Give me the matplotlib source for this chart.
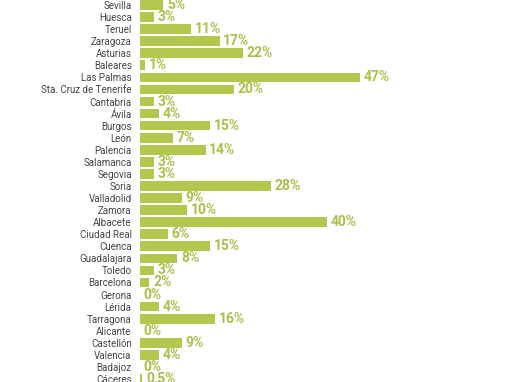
import matplotlib
matplotlib.use("Agg")
import matplotlib.pyplot as plt

provincias = ["Sevilla", "Huesca", "Teruel", "Zaragoza", "Asturias", "Baleares",
              "Las Palmas", "Sta. Cruz de Tenerife", "Cantabria", "Ávila", "Burgos",
              "León", "Palencia", "Salamanca", "Segovia", "Soria", "Valladolid",
              "Zamora", "Albacete", "Ciudad Real", "Cuenca", "Guadalajara", "Toledo",
              "Barcelona", "Gerona", "Lérida", "Tarragona", "Alicante", "Castellón",
              "Valencia", "Badajoz", "Cáceres"]
valores = [5, 3, 11, 17, 22, 1, 47, 20, 3, 4, 15, 7, 14, 3, 3, 28, 9, 10, 40, 6,
           15, 8, 3, 2, 0, 4, 16, 0, 9, 4, 0, 0.5]
etiquetas = ["5%", "3%", "11%", "17%", "22%", "1%", "47%", "20%", "3%", "4%", "15%",
             "7%", "14%", "3%", "3%", "28%", "9%", "10%", "40%", "6%", "15%", "8%",
             "3%", "2%", "0%", "4%", "16%", "0%", "9%", "4%", "0%", "0,5%"]

verde = "#b2c84c"
verde_txt = "#a9c049"

fig = plt.figure(figsize=(5.10, 3.82), dpi=100)
ax = fig.add_axes([140 / 510, 0, 370 / 510, 1])

pos = list(range(len(provincias)))
ax.barh(pos, valores, height=0.8, color=verde)

for p, v, t in zip(pos, valores, etiquetas):
    ax.text(v + 0.8, p, t, va="center", ha="left", fontsize=10,
            fontweight="bold", color=verde_txt, family="Roboto")

ax.set_yticks(pos)
ax.set_yticklabels(provincias, fontsize=7, color="#444444", family="Roboto")
ax.tick_params(axis="y", length=0, pad=6)
ax.set_xticks([])
ax.set_xlim(0, 370 / 4.68)
ax.set_ylim(31 + 3 / 12.06, -5 / 12.06)
for s in ax.spines.values():
    s.set_visible(False)

fig.savefig("out.png", dpi=100)
